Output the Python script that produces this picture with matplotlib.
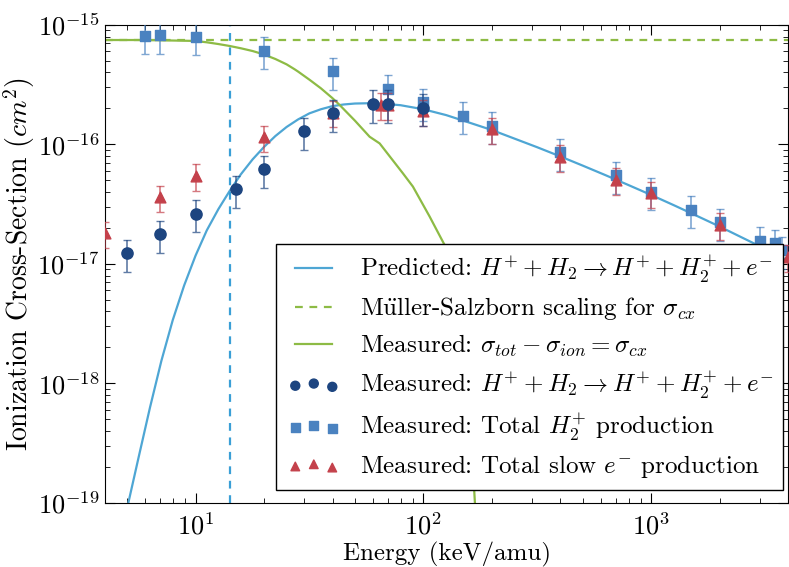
import numpy as np
import matplotlib
matplotlib.use('Agg')
import matplotlib.pyplot as plt
from matplotlib.lines import Line2D
from matplotlib.collections import PathCollection
from matplotlib.legend_handler import HandlerLine2D, HandlerPathCollection

plt.rcParams['font.family'] = ['cmr10', 'DejaVu Serif']
plt.rcParams['mathtext.fontset'] = 'cm'
plt.rcParams['axes.formatter.use_mathtext'] = True

# predicted ionization curve
E_pred = [5.01, 5.62, 6.31, 7.08, 7.94, 8.91, 10.0, 11.2, 12.6, 14.1, 15.8, 17.8, 20.0,
          22.4, 25.1, 28.2, 31.6, 35.5, 39.8, 44.7, 50.1, 56.2, 63.1, 70.8, 79.4, 100,
          126, 158, 200, 251, 316, 398, 501, 631, 794, 1000, 1259, 1585, 1995, 2512,
          3162, 3981]
sig_pred = [9.1e-20, 2.40e-19, 6.31e-19, 1.55e-18, 3.39e-18, 6.61e-18, 1.175e-17,
            1.91e-17, 2.88e-17, 4.07e-17, 5.62e-17, 7.50e-17, 9.55e-17, 1.175e-16,
            1.40e-16, 1.62e-16, 1.82e-16, 1.97e-16, 2.09e-16, 2.16e-16, 2.20e-16,
            2.21e-16, 2.20e-16, 2.17e-16, 2.13e-16, 1.97e-16, 1.76e-16, 1.53e-16,
            1.32e-16, 1.12e-16, 9.48e-17, 7.96e-17, 6.65e-17, 5.53e-17, 4.58e-17,
            3.78e-17, 3.10e-17, 2.53e-17, 2.06e-17, 1.66e-17, 1.34e-17, 1.07e-17]

# measured sigma_tot - sigma_ion
E_cx = [4.0, 5.97, 9.91, 11.2, 12.6, 14.1, 15.8, 17.8, 19.8, 22.4, 25.1, 27.2, 28.2,
        31.7, 35.5, 39.8, 42.9, 50.1, 58.1, 64.3, 81.3, 90.0, 106.6, 124, 140, 155,
        165, 172]
sig_cx = [7.48e-16, 7.48e-16, 7.35e-16, 7.16e-16, 6.92e-16, 6.67e-16, 6.38e-16,
          6.05e-16, 5.69e-16, 5.19e-16, 4.68e-16, 4.26e-16, 4.07e-16, 3.47e-16,
          2.95e-16, 2.45e-16, 2.14e-16, 1.58e-16, 1.16e-16, 1.02e-16, 5.74e-17,
          4.44e-17, 2.49e-17, 1.44e-17, 4.0e-18, 8.0e-19, 2.0e-19, 5.0e-20]

ms_scaling = 7.5e-16
E_threshold = 14.1

# measured ionization (circles)
E_ion = [5, 7, 10, 15, 20, 30, 40, 60, 70, 100]
sig_ion = [1.23e-17, 1.77e-17, 2.64e-17, 4.22e-17, 6.2e-17, 1.29e-16, 1.82e-16,
           2.18e-16, 2.18e-16, 2.02e-16]

# total H2+ production (squares)
E_h2p = [6, 7, 10, 20, 40, 70, 100, 150, 200, 400, 700, 1000, 1500, 2000, 3000, 3500, 3750]
sig_h2p = [8.1e-16, 8.2e-16, 7.98e-16, 6.1e-16, 4.1e-16, 2.91e-16, 2.25e-16, 1.74e-16,
           1.43e-16, 8.6e-17, 5.52e-17, 4.03e-17, 2.83e-17, 2.23e-17, 1.56e-17, 1.49e-17,
           1.3e-17]

# total slow electron production (triangles)
E_el = [4, 7, 10, 20, 40, 65, 70, 100, 200, 400, 700, 1000, 2000, 4000]
sig_el = [1.81e-17, 3.61e-17, 5.48e-17, 1.15e-16, 1.85e-16, 2.14e-16, 2.15e-16, 1.9e-16,
          1.34e-16, 7.9e-17, 5.05e-17, 3.9e-17, 2.12e-17, 1.15e-17]

c_pred = '#4ea6d4'
c_green = '#8dbb45'
c_circ = '#1d4580'
c_sq = '#4a82c0'
c_tri = '#c4414b'

fig = plt.figure(figsize=(7.89, 5.67), dpi=100)
ax = fig.add_axes([0.133, 0.113, 0.866, 0.843])

l1, = ax.plot(E_pred, sig_pred, color=c_pred, lw=1.6, zorder=2)
l2 = ax.axhline(ms_scaling, color=c_green, lw=1.6, ls=(0, (3.5, 3)), zorder=2)
l3, = ax.plot(E_cx, sig_cx, color=c_green, lw=1.6, zorder=2)
ax.axvline(E_threshold, color='#3a9fd6', lw=1.6, ls=(0, (3.5, 3)), zorder=2)

E_ion = np.array(E_ion); sig_ion = np.array(sig_ion)
E_h2p = np.array(E_h2p); sig_h2p = np.array(sig_h2p)
E_el = np.array(E_el); sig_el = np.array(sig_el)

ax.errorbar(E_h2p, sig_h2p, yerr=0.3 * sig_h2p, fmt='none', ecolor=c_sq, alpha=0.7,
            capsize=3, elinewidth=1.2, zorder=3)
s2 = ax.scatter(E_h2p, sig_h2p, marker='s', s=60, color=c_sq, zorder=4)
ax.errorbar(E_el, sig_el, yerr=0.25 * sig_el, fmt='none', ecolor=c_tri, alpha=0.7,
            capsize=3, elinewidth=1.2, zorder=5)
s3 = ax.scatter(E_el, sig_el, marker='^', s=60, color=c_tri, zorder=6)
ax.errorbar(E_ion, sig_ion, yerr=0.3 * sig_ion, fmt='none', ecolor=c_circ, alpha=0.7,
            capsize=3, elinewidth=1.2, zorder=7)
s1 = ax.scatter(E_ion, sig_ion, marker='o', s=65, color=c_circ, zorder=8)

ax.set_xscale('log')
ax.set_yscale('log')
ax.set_xlim(4, 4000)
ax.set_ylim(1e-19, 1e-15)

ax.tick_params(which='both', direction='in', top=True, right=True, labelsize=19)
ax.tick_params(axis='x', pad=7)
ax.tick_params(axis='y', pad=4)
ax.tick_params(which='major', length=7)
ax.tick_params(which='minor', length=3.5)

ax.set_xlabel('Energy (keV/amu)', fontsize=18, labelpad=2)
ax.set_ylabel(r'Ionization Cross-Section $(cm^2)$', fontsize=20, labelpad=0.5)

labels = [r'Predicted: $H^{+} + H_2 \rightarrow H^{+} + H_2^{+} + e^{-}$',
          r'M$\ddot{\mathrm{u}}$ller-Salzborn scaling for $\sigma_{cx}$',
          r'Measured: $\sigma_{tot} - \sigma_{ion} = \sigma_{cx}$',
          r'Measured: $H^{+} + H_2 \rightarrow H^{+} + H_2^{+} + e^{-}$',
          r'Measured: Total $H_2^{+}$ production',
          r'Measured: Total slow $e^{-}$ production']
hmap = {Line2D: HandlerLine2D(xpad=0.36),
        PathCollection: HandlerPathCollection(xpad=0.36, marker_pad=0.0, numpoints=3)}
leg = ax.legend([l1, l2, l3, s1, s2, s3], labels, loc='lower right',
                bbox_to_anchor=(0.9927, 0.027), borderaxespad=0, fontsize=18,
                handlelength=1.84, handletextpad=1.1, borderpad=0.4, labelspacing=0.42,
                scatterpoints=3, markerscale=0.8, fancybox=False, framealpha=1,
                edgecolor='black', handler_map=hmap)
leg.get_frame().set_linewidth(1.0)
leg.set_zorder(10)

plt.savefig('out.png', dpi=100)
